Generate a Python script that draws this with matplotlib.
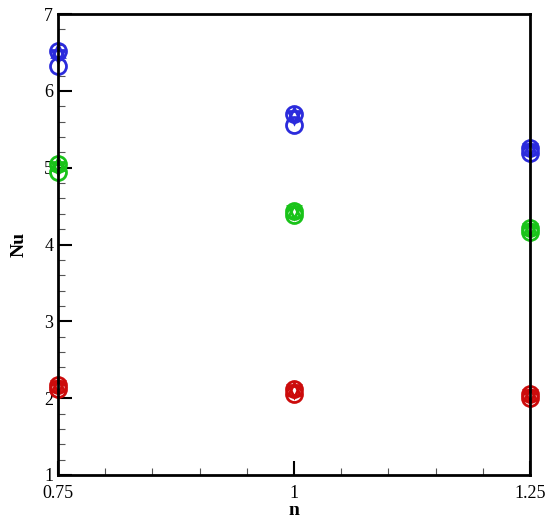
import matplotlib
matplotlib.use("Agg")
import matplotlib.pyplot as plt
from matplotlib.ticker import MultipleLocator, FixedLocator

n = [0.75, 1.0, 1.25]
blue_circle_hi = [6.52, 5.70, 5.26]
blue_circle_lo = [6.33, 5.56, 5.19]
blue_tri = [6.46, 5.66, 5.23]
green_circle_hi = [5.05, 4.44, 4.22]
green_circle_lo = [4.95, 4.38, 4.16]
green_tri = [5.00, 4.42, 4.19]
red_circle_hi = [2.17, 2.12, 2.05]
red_circle_lo = [2.12, 2.06, 2.00]
red_tri = [2.14, 2.09, 2.03]

xticks = [0.75, 1.0, 1.25]
xticklabels = ["0.75", "1", "1.25"]
yticks = [1, 2, 3, 4, 5, 6, 7]

plt.rcParams['font.family'] = ['Liberation Serif', 'DejaVu Serif']

fig = plt.figure(figsize=(5.5, 5.19), dpi=100)
ax = fig.add_axes([0.1055, 0.0848, 0.858, 0.888])

ms = 11.5
mew = 2.0
series = [
    (blue_circle_hi, blue_circle_lo, blue_tri, '#2b2bdc'),
    (green_circle_hi, green_circle_lo, green_tri, '#19c319'),
    (red_circle_hi, red_circle_lo, red_tri, '#cc0b0b'),
]
for hi, lo, tri, c in series:
    ax.plot(n, hi, ls='none', marker='o', ms=ms, mfc='none', mec=c, mew=mew, clip_on=False)
    ax.plot(n, lo, ls='none', marker='o', ms=ms, mfc='none', mec=c, mew=mew, clip_on=False)
    ax.plot(n, tri, ls='none', marker='v', ms=ms*0.7, mfc='none', mec=c, mew=mew, clip_on=False)
    ax.plot(n, hi, ls='none', marker='^', ms=ms*0.7, mfc='none', mec=c, mew=mew, clip_on=False)

ax.set_xlim(0.75, 1.25)
ax.set_ylim(1, 7)
ax.xaxis.set_major_locator(FixedLocator(xticks))
ax.set_xticklabels(xticklabels)
ax.xaxis.set_minor_locator(MultipleLocator(0.05))
ax.yaxis.set_major_locator(FixedLocator(yticks))
ax.yaxis.set_minor_locator(MultipleLocator(0.2))
ax.tick_params(which='both', direction='in', top=False, right=False, labelsize=13, width=1.5)
ax.tick_params(which='major', length=10)
ax.tick_params(axis='x', which='major', pad=7)
ax.tick_params(which='minor', length=5, width=0.8, color='#555555')
for s in ax.spines.values():
    s.set_linewidth(2)
ax.set_xlabel('n', fontsize=14, fontweight='bold', labelpad=0)
ax.set_ylabel('Nu', fontsize=14, fontweight='bold', labelpad=12)

fig.savefig('out.png', dpi=100)
